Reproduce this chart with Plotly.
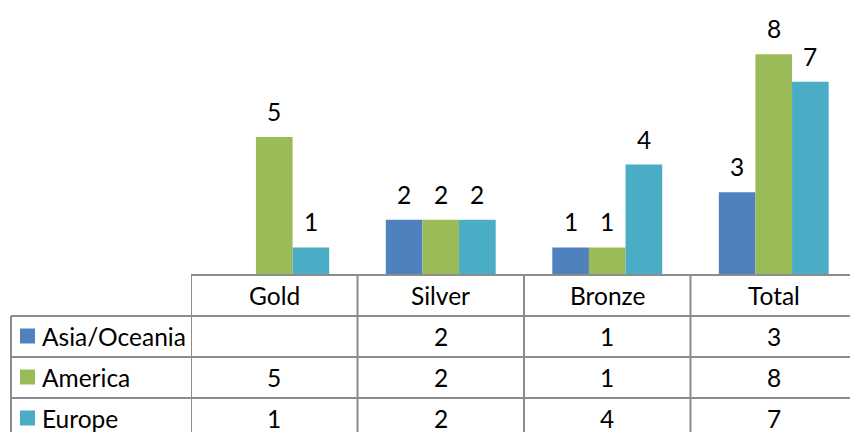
import plotly.graph_objects as go

# medal counts by region
categories = ["Gold", "Silver", "Bronze", "Total"]
regions = ["Asia/Oceania", "America", "Europe"]
asia = [None, 2, 1, 3]
america = [5, 2, 1, 8]
europe = [1, 2, 4, 7]
colors = ["#4F81BD", "#9BBB59", "#4BACC6"]

W, H = 850, 432
FONT = "Lato, sans-serif"
FS = 24.5
GRID = "#8c8c8c"


def px(x):
    return x / W


def py(y):
    return 1 - y / H


base = 275      # pixel row of the axis line
row_h = 41
left = 191
cat_w = 166.5
gap = 0.34
bw = (1 - gap) / len(regions)

fig = go.Figure()
series = [asia, america, europe]
for name, vals, col in zip(regions, series, colors):
    fig.add_trace(go.Bar(
        x=list(range(len(categories))), y=vals, name=name, marker_color=col,
        marker_line_width=0,
    ))

shapes = []
annotations = []

# value labels above the bars
for j, vals in enumerate(series):
    for k, v in enumerate(vals):
        if v is None:
            continue
        annotations.append(dict(x=k + (j - 1) * bw, y=v, xref="x", yref="y",
                                text=str(v), showarrow=False, yanchor="bottom",
                                yshift=9,
                                font=dict(family=FONT, size=FS, color="#000000")))

# horizontal table lines
for i in range(4):
    y = base + row_h * i
    x0 = left if i == 0 else 11
    shapes.append(dict(type="line", xref="paper", yref="paper",
                       x0=px(x0), x1=1, y0=py(y), y1=py(y),
                       line=dict(color=GRID, width=2)))
# vertical table lines
shapes.append(dict(type="line", xref="paper", yref="paper",
                   x0=px(11), x1=px(11), y0=py(base + row_h), y1=0,
                   line=dict(color=GRID, width=2)))
for k in range(len(categories)):
    shapes.append(dict(type="line", xref="x", yref="paper",
                       x0=k - 0.5, x1=k - 0.5, y0=py(base), y1=0,
                       line=dict(color=GRID, width=2)))

# header row
for k, c in enumerate(categories):
    annotations.append(dict(x=k, y=py(base + row_h / 2), xref="x", yref="paper",
                            text=c, showarrow=False, yanchor="middle",
                            font=dict(family=FONT, size=FS, color="#000000")))

# data rows with legend keys
for r, (name, vals, col) in enumerate(zip(regions, series, colors)):
    yc = base + row_h * (r + 1) + row_h / 2
    shapes.append(dict(type="rect", xref="paper", yref="paper",
                       x0=px(20), x1=px(35), y0=py(yc - 8), y1=py(yc + 7),
                       fillcolor=col, line=dict(width=0)))
    annotations.append(dict(x=px(40), y=py(yc), xref="paper", yref="paper",
                            text=name, showarrow=False, xanchor="left", yanchor="middle",
                            font=dict(family=FONT, size=FS, color="#000000")))
    for k, v in enumerate(vals):
        if v is None:
            continue
        annotations.append(dict(x=k, y=py(yc), xref="x", yref="paper",
                                text=str(v), showarrow=False, yanchor="middle",
                                font=dict(family=FONT, size=FS, color="#000000")))

fig.update_layout(
    width=W, height=H,
    margin=dict(l=0, r=0, t=0, b=0),
    paper_bgcolor="white", plot_bgcolor="white",
    barmode="group", bargap=gap, bargroupgap=0,
    showlegend=False,
    xaxis=dict(domain=[px(left), 1], range=[-0.5, -0.5 + (W - left) / cat_w],
               showticklabels=False, showgrid=False, zeroline=False, showline=False),
    yaxis=dict(domain=[py(base), 1], range=[0, base / 27.6],
               showticklabels=False, showgrid=False, zeroline=False, showline=False),
    shapes=shapes,
    annotations=annotations,
)

fig.write_html("out.html", config={"displayModeBar": False},
               post_script="document.body.style.margin='0';")
